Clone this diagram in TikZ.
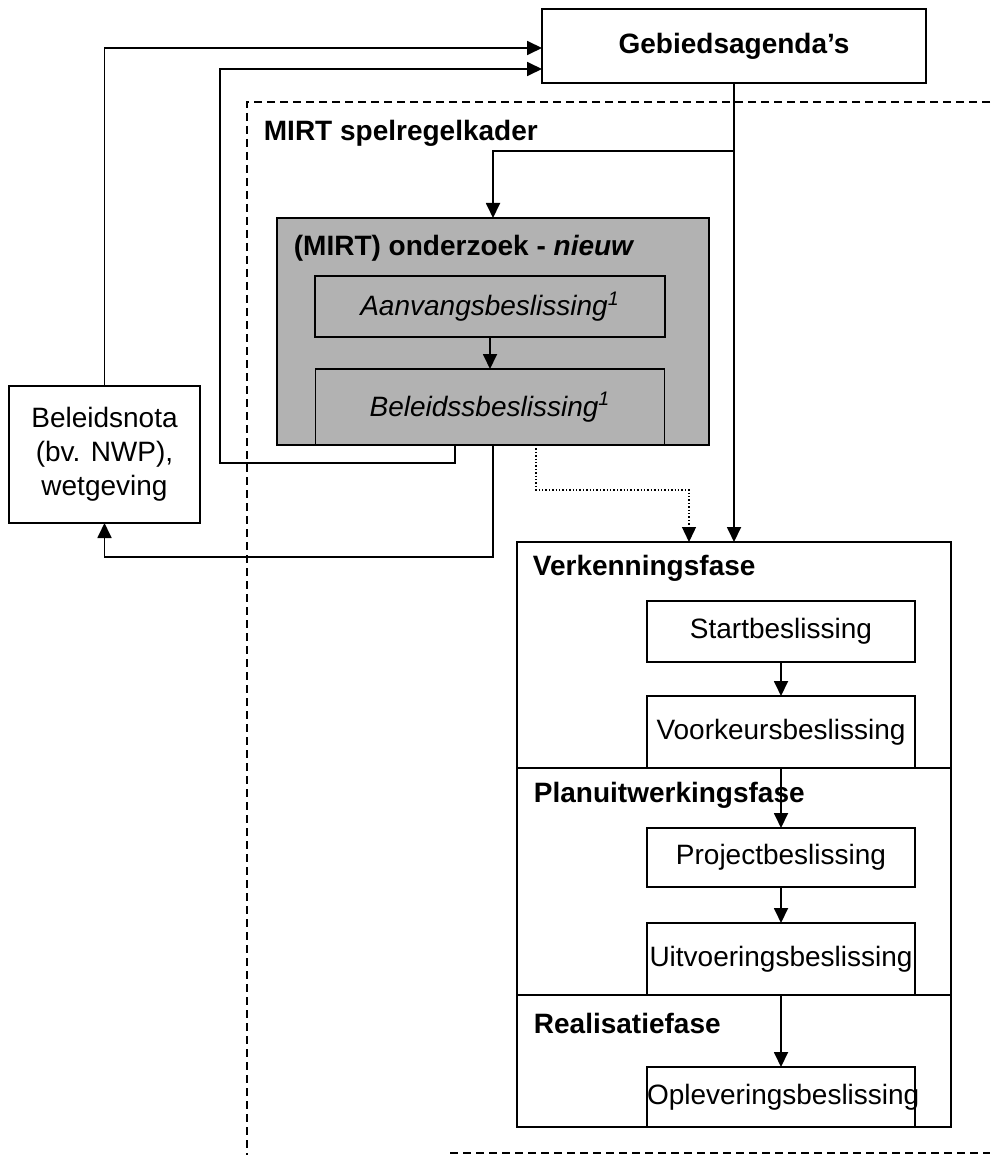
\documentclass[tikz,border=0pt]{standalone}
\usepackage{fontspec}
\setmainfont{Liberation Sans}
\usepackage{tikz}
\usetikzlibrary{arrows.meta,positioning}
\newcommand{\mirtsize}{\fontsize{14}{17}\selectfont}

\begin{document}
\begin{tikzpicture}[x=0.5pt, y=-0.5pt, >={Triangle[length=7.5pt,width=7pt]}, line width=0.9pt,
        box/.style={draw, rectangle, inner sep=0pt, outer sep=0pt, align=center, font=\mirtsize},
        besluit/.style={box, text width=134pt},
        phase/.style={draw, rectangle, inner sep=0pt, outer sep=0pt, minimum width=217pt},
        head/.style={anchor=west, inner sep=0pt, font=\mirtsize\bfseries},
        frame/.style={dash pattern=on 4pt off 2.5pt, line width=0.7pt},
        hint/.style={densely dotted, line width=0.7pt}]
        \useasboundingbox (0,0) rectangle (990,1155);

        % spelregelkader
        \draw[frame] (990,102) -- (247,102) -- (247,1155);
        \draw[frame] (450,1153) -- (990,1153);
        \node[head] (kaderlabel) at (263,133) {MIRT spelregelkader};

        \node[box, minimum width=192pt, minimum height=37pt, font=\mirtsize\bfseries] (gebied) at (734,46) {Gebiedsagenda's};
        \node[box, minimum width=95.5pt, minimum height=68.5pt] (nota) at (104.5,454.5) {Beleidsnota\\(bv. NWP),\\wetgeving};

        % onderzoek
        \node[box, fill=black!30, minimum width=216pt, minimum height=113.5pt] (onderzoek) at (493,331.5) {};
        \node[head] (onderzoeklabel) at (293,248) {(MIRT) onderzoek - \textit{nieuw}};
        \node[box, minimum width=175pt, minimum height=30.5pt, font=\mirtsize\itshape] (aanvang) at (490,306.5) {Aanvangsbeslissing\textsuperscript{1}};
        \node[box, minimum width=174.5pt, minimum height=38pt, font=\mirtsize\itshape] (beleid) [below=16pt of aanvang] {Beleidssbeslissing\textsuperscript{1}};

        % fasen
        \node[phase, minimum height=113pt] (verken) at (734,655) {};
        \node[phase, minimum height=113.5pt] (plan) at (734,881.5) {};
        \node[phase, minimum height=66pt] (real) at (734,1061) {};
        \node[head] (verkenlabel) at (532,568) {Verkenningsfase};
        \node[head] (planlabel) at (533,795) {Planuitwerkingsfase};
        \node[head] (reallabel) at (533,1023) {Realisatiefase};

        \node[besluit, minimum height=30.5pt] (start) at (781,631.5) {Startbeslissing};
        \node[besluit, minimum height=36pt] (voorkeur) [below=17pt of start] {Voorkeursbeslissing};
        \node[besluit, minimum height=29.5pt] (project) [below=30pt of voorkeur] {Projectbeslissing};
        \node[besluit, minimum height=36pt] (uitvoering) [below=18pt of project] {Uitvoeringsbeslissing};
        \node[besluit, minimum height=30pt] (oplevering) [below=36pt of uitvoering] {Opleveringsbeslissing};

        \coordinate (split) at (734,151);
        \coordinate (lus) at (220,463);

        \draw[->] (aanvang) -- (beleid);
        \draw[->] (start) -- (voorkeur);
        \draw[->] (voorkeur) -- (project);
        \draw[->] (project) -- (uitvoering);
        \draw[->] (uitvoering) -- (oplevering);

        \draw[->] (gebied.south) -- (verken.north);
        \draw[->] (split) -| (onderzoek.north);
        \draw[->] (nota.north) |- ([yshift=-1pt]gebied.west);
        \draw[->] ([xshift=-19pt]onderzoek.south) |- (lus) |- ([yshift=-11.5pt]gebied.west);
        \draw[->] (onderzoek.south) -- ++(0,112) -| (nota.south);
        \draw[->, hint] ([xshift=21.5pt]onderzoek.south) -- ++(0,45) -| ([xshift=-22.5pt]verken.north);
    \end{tikzpicture}
\end{document}
